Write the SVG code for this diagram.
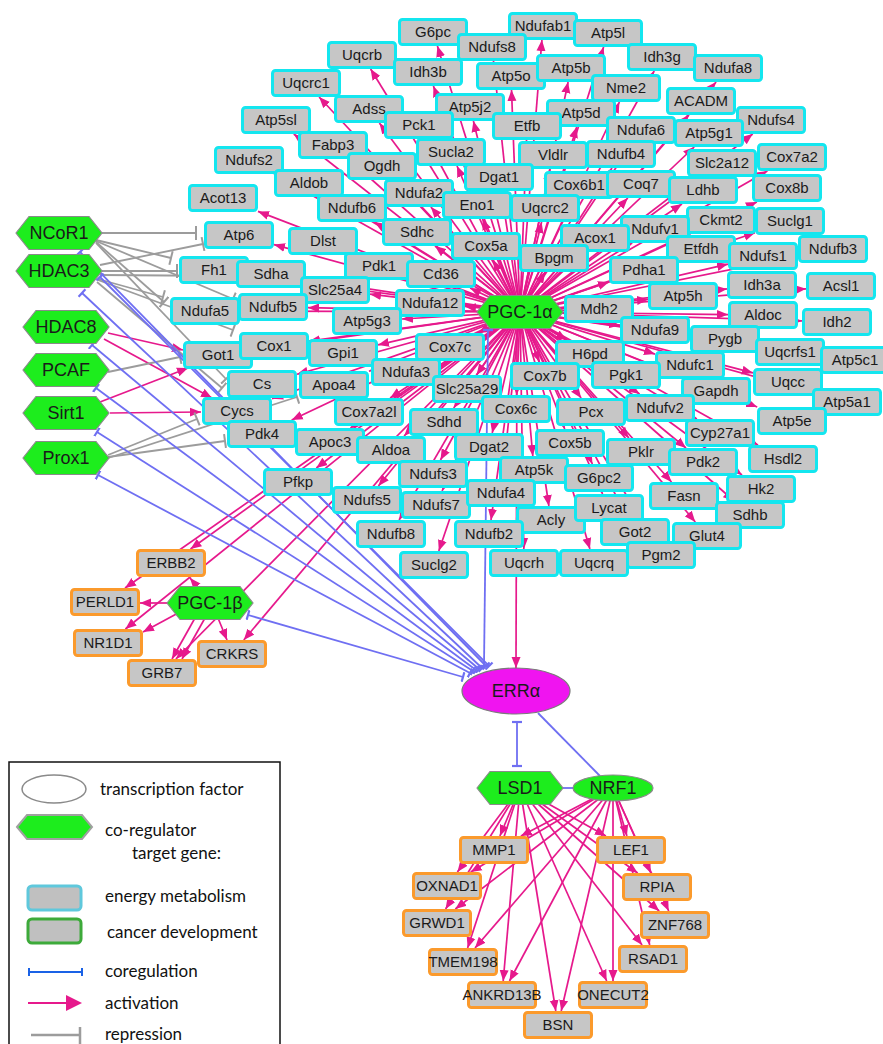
<svg xmlns="http://www.w3.org/2000/svg" xmlns:xlink="http://www.w3.org/1999/xlink" width="883" height="1044" viewBox="0 0 883 1044">
<style>
.act{fill:none;stroke:#e6198c;stroke-width:1.7;marker-end:url(#ah)}
.co{fill:none;stroke:#6f6ff2;stroke-width:1.8;marker-start:url(#tb);marker-end:url(#tb)}
.co2{fill:none;stroke:#6f6ff2;stroke-width:1.8}
.rep{fill:none;stroke:#9c9c9c;stroke-width:1.8;marker-end:url(#tg)}
.e{fill:#c6c6c6;stroke:#14e6ef;stroke-width:3}
.c{fill:#c6c6c6;stroke:#fb9a2c;stroke-width:3}
.hx{fill:#1ded1d;stroke:#8a8a8a;stroke-width:1.2}
text{font-family:"Liberation Sans",Arial,sans-serif;font-size:15px;fill:#1a1a1a;text-anchor:middle}
.big{font-size:18px}
.lg{font-family:Lato,"Open Sans",sans-serif;font-size:17px;text-anchor:start;fill:#111}
</style>
<defs>
<marker id="ah" markerUnits="userSpaceOnUse" markerWidth="12" markerHeight="10" refX="11" refY="5" orient="auto"><path d="M0,0.5L11,5L0,9.5z" fill="#e6198c"/></marker>
<marker id="tb" markerUnits="userSpaceOnUse" markerWidth="4" markerHeight="10" refX="2" refY="5" orient="auto"><path d="M2,0V10" stroke="#6f6ff2" stroke-width="2.2"/></marker>
<marker id="tg" markerUnits="userSpaceOnUse" markerWidth="4" markerHeight="14" refX="2" refY="7" orient="auto"><path d="M2,0V14" stroke="#9c9c9c" stroke-width="2"/></marker>
<rect id="box" x="-33.5" y="-12.5" width="67" height="25" rx="3"/>
<polygon id="hex" points="-43,0 -30,-16.5 30,-16.5 43,0 30,16.5 -30,16.5"/>
</defs>
<rect width="883" height="1044" fill="#fff"/>
<g id="connectors">
<g class="act">
<path d="M520 312L437.4 46"/><path d="M520 312L541.9 40"/><path d="M520 312L603.6 47"/><path d="M520 312L493.5 61"/><path d="M520 312L370.6 69"/><path d="M520 312L433.4 86"/><path d="M520 312L511.5 90"/><path d="M520 312L654.2 71"/><path d="M520 312L716.1 82"/><path d="M520 312L568.1 82"/><path d="M520 312L319.1 97"/><path d="M520 312L379.4 123"/><path d="M520 312L473.4 121"/><path d="M520 312L619.4 102"/><path d="M520 312L689 115"/><path d="M520 312L576.7 127"/><path d="M520 312L293.8 134"/><path d="M520 312L426.6 139"/><path d="M520 312L526.5 140"/><path d="M520 312L752.7 134"/><path d="M520 312L631.7 144"/><path d="M520 312L694.2 147"/><path d="M520 312L348.7 159"/><path d="M520 312L457 166"/><path d="M520 312L550 169"/><path d="M520 312L612 168"/><path d="M520 312L703 177"/><path d="M520 312L767.4 171"/><path d="M520 312L274 174"/><path d="M520 312L395.2 180"/><path d="M520 312L501.2 191"/><path d="M520 312L572.5 199"/><path d="M520 312L627.8 198"/><path d="M520 312L682 204"/><path d="M520 312L756.9 202"/><path d="M520 312L331.9 197"/><path d="M520 312L430.9 207"/><path d="M520 312L482.6 219"/><path d="M520 312L541.6 222"/><path d="M520 312L258 211.4"/><path d="M520 312L374.6 222"/><path d="M520 312L690.4 234"/><path d="M520 312L755 232.8"/><path d="M520 312L632.2 243"/><path d="M520 312L580.8 252"/><path d="M520 312L274 244.6"/><path d="M520 312L358 253.6"/><path d="M520 312L435 246"/><path d="M520 312L493.2 260"/><path d="M520 312L545.2 272"/><path d="M520 312L666 261.2"/><path d="M520 312L728 264.1"/><path d="M520 312L798 256"/><path d="M520 312L249 274.8"/><path d="M520 312L306 279.3"/><path d="M520 312L414 277.4"/><path d="M520 312L470.1 288"/><path d="M520 312L609 281.9"/><path d="M520 312L727 288.9"/><path d="M520 312L806 288.8"/><path d="M520 312L370 294.2"/><path d="M520 312L465 306.5"/><path d="M520 312L564 310.3"/><path d="M520 312L648 299.4"/><path d="M520 312L728 314.6"/><path d="M520 312L802 320.9"/><path d="M520 312L240 311.1"/><path d="M520 312L308 307.7"/><path d="M520 312L402 319"/><path d="M520 312L690 334.4"/><path d="M520 312L620 325.3"/><path d="M520 312L253 350"/><path d="M520 312L309 341.2"/><path d="M520 312L378 344.9"/><path d="M520 312L478 333"/><path d="M520 312L432.6 358"/><path d="M520 312L566.7 340"/><path d="M520 312L655 354.1"/><path d="M520 312L755 346.8"/><path d="M520 312L820 355"/><path d="M520 312L297 374.2"/><path d="M520 312L369 371.3"/><path d="M520 312L476.6 375"/><path d="M520 312L539.5 362"/><path d="M520 312L602.5 361"/><path d="M520 312L753 372.9"/><path d="M520 312L272 398.8"/><path d="M520 312L390.1 398"/><path d="M520 312L516.6 395"/><path d="M520 312L581.1 398"/><path d="M520 312L681.3 377"/><path d="M520 312L812 392.4"/><path d="M520 312L639.6 394"/><path d="M520 312L757.2 407"/><path d="M520 312L291.7 420"/><path d="M520 312L350.5 428"/><path d="M520 312L453.7 408"/><path d="M520 312L404.1 436"/><path d="M520 312L492.2 433"/><path d="M520 312L564.7 429"/><path d="M520 312L628.9 438"/><path d="M520 312L696.9 419"/><path d="M520 312L686 448"/><path d="M520 312L758 445"/><path d="M520 312L316.3 468"/><path d="M520 312L440.5 460"/><path d="M520 312L532.8 456"/><path d="M520 312L592.4 464"/><path d="M520 312L378.4 486"/><path d="M520 312L442.1 491"/><path d="M520 312L502.5 479"/><path d="M520 312L548.9 506"/><path d="M520 312L602.6 494"/><path d="M520 312L671.5 482"/><path d="M520 312L742 475"/><path d="M520 312L734.1 501"/><path d="M520 312L399.1 520"/><path d="M520 312L491 520"/><path d="M520 312L627.7 518"/><path d="M520 312L695.3 522"/><path d="M520 312L652.9 541"/><path d="M520 312L438.8 551"/><path d="M520 312L523.8 549"/><path d="M520 312L589.9 549"/>
<path d="M520 312L190.5 549"/><path d="M520 312L125 588"/><path d="M520 312L125.4 629"/><path d="M520 312L175.9 659"/><path d="M520 312L243.8 640"/>
<path d="M517 330L516 668"/>
<path d="M200 590L190 578"/><path d="M170 603L140 603"/><path d="M180 612L143 632"/><path d="M195 618L172 659"/><path d="M205 618L182 659"/><path d="M218 618L227 640"/>
<path d="M108 333L183 350"/><path d="M104 339L212 398"/><path d="M100 402L188 368"/><path d="M110 413L201 412"/>
<path d="M520 788L499.9 836"/><path d="M520 788L605.9 836"/><path d="M520 788L457.4 872"/><path d="M520 788L637.7 873"/><path d="M520 788L445.6 909"/><path d="M520 788L659.2 911"/><path d="M520 788L467.6 948"/><path d="M520 788L642.1 945"/><path d="M520 788L503.2 981"/><path d="M520 788L606.7 981"/><path d="M520 788L555.8 1011"/>
<path d="M613 788L520.9 836"/><path d="M613 788L626.9 836"/><path d="M613 788L470.7 872"/><path d="M613 788L650.8 873"/><path d="M613 788L455.3 909"/><path d="M613 788L668.7 911"/><path d="M613 788L475 948"/><path d="M613 788L649.7 945"/><path d="M613 788L509.5 981"/><path d="M613 788L613 981"/><path d="M613 788L561.2 1011"/>
</g>
<g class="rep">
<path d="M102 233L196 233"/><path d="M96 240L171 258"/><path d="M96 241L233 299"/><path d="M96 242L164 302"/><path d="M96 243L226 379"/>
<path d="M102 271L177 271"/><path d="M100 265L203 244"/><path d="M100 275L234 276"/><path d="M98 279L163 297"/><path d="M98 280L233 330"/><path d="M97 282L222 388"/>
<path d="M108 372L180 357"/><path d="M108 455L197 419"/><path d="M108 457L225 441"/><path d="M108 458L297 397"/>
</g>
<g class="co">
<path d="M80 252L486 666"/><path d="M100 277L489 666"/><path d="M82 293L482 668"/><path d="M92 345L479 669"/><path d="M96 388L476 670"/><path d="M97 432L473 671"/><path d="M98 475L470 673"/><path d="M248 615L463 677"/><path d="M488 330L484 666"/><path d="M517 722L517 766"/>
</g>
<g class="co2"><path d="M538 713L600 776"/><path d="M562 788L574 788"/></g>
</g>
<g id="n-G6pc" transform="translate(433,32)"><use href="#box" class="e"/><text y="5">G6pc</text></g>
<g id="n-Ndufab1" transform="translate(543,26)"><use href="#box" class="e"/><text y="5">Ndufab1</text></g>
<g id="n-Atp5l" transform="translate(608,33)"><use href="#box" class="e"/><text y="5">Atp5l</text></g>
<g id="n-Ndufs8" transform="translate(492,47)"><use href="#box" class="e"/><text y="5">Ndufs8</text></g>
<g id="n-Uqcrb" transform="translate(362,55)"><use href="#box" class="e"/><text y="5">Uqcrb</text></g>
<g id="n-Idh3b" transform="translate(428,72)"><use href="#box" class="e"/><text y="5">Idh3b</text></g>
<g id="n-Atp5o" transform="translate(511,76)"><use href="#box" class="e"/><text y="5">Atp5o</text></g>
<g id="n-Idh3g" transform="translate(662,57)"><use href="#box" class="e"/><text y="5">Idh3g</text></g>
<g id="n-Ndufa8" transform="translate(728,68)"><use href="#box" class="e"/><text y="5">Ndufa8</text></g>
<g id="n-Atp5b" transform="translate(571,68)"><use href="#box" class="e"/><text y="5">Atp5b</text></g>
<g id="n-Uqcrc1" transform="translate(306,83)"><use href="#box" class="e"/><text y="5">Uqcrc1</text></g>
<g id="n-Adss" transform="translate(369,109)"><use href="#box" class="e"/><text y="5">Adss</text></g>
<g id="n-Atp5j2" transform="translate(470,107)"><use href="#box" class="e"/><text y="5">Atp5j2</text></g>
<g id="n-Nme2" transform="translate(626,88)"><use href="#box" class="e"/><text y="5">Nme2</text></g>
<g id="n-ACADM" transform="translate(701,101)"><use href="#box" class="e"/><text y="5">ACADM</text></g>
<g id="n-Atp5d" transform="translate(581,113)"><use href="#box" class="e"/><text y="5">Atp5d</text></g>
<g id="n-Atp5sl" transform="translate(276,120)"><use href="#box" class="e"/><text y="5">Atp5sl</text></g>
<g id="n-Pck1" transform="translate(419,125)"><use href="#box" class="e"/><text y="5">Pck1</text></g>
<g id="n-Etfb" transform="translate(527,126)"><use href="#box" class="e"/><text y="5">Etfb</text></g>
<g id="n-Ndufs4" transform="translate(771,120)"><use href="#box" class="e"/><text y="5">Ndufs4</text></g>
<g id="n-Ndufa6" transform="translate(641,130)"><use href="#box" class="e"/><text y="5">Ndufa6</text></g>
<g id="n-Atp5g1" transform="translate(709,133)"><use href="#box" class="e"/><text y="5">Atp5g1</text></g>
<g id="n-Fabp3" transform="translate(333,145)"><use href="#box" class="e"/><text y="5">Fabp3</text></g>
<g id="n-Sucla2" transform="translate(451,152)"><use href="#box" class="e"/><text y="5">Sucla2</text></g>
<g id="n-Vldlr" transform="translate(553,155)"><use href="#box" class="e"/><text y="5">Vldlr</text></g>
<g id="n-Ndufb4" transform="translate(621,154)"><use href="#box" class="e"/><text y="5">Ndufb4</text></g>
<g id="n-Slc2a12" transform="translate(722,163)"><use href="#box" class="e"/><text y="5">Slc2a12</text></g>
<g id="n-Cox7a2" transform="translate(792,157)"><use href="#box" class="e"/><text y="5">Cox7a2</text></g>
<g id="n-Ndufs2" transform="translate(249,160)"><use href="#box" class="e"/><text y="5">Ndufs2</text></g>
<g id="n-Ogdh" transform="translate(382,166)"><use href="#box" class="e"/><text y="5">Ogdh</text></g>
<g id="n-Dgat1" transform="translate(499,177)"><use href="#box" class="e"/><text y="5">Dgat1</text></g>
<g id="n-Cox6b1" transform="translate(579,185)"><use href="#box" class="e"/><text y="5">Cox6b1</text></g>
<g id="n-Coq7" transform="translate(641,184)"><use href="#box" class="e"/><text y="5">Coq7</text></g>
<g id="n-Ldhb" transform="translate(703,190)"><use href="#box" class="e"/><text y="5">Ldhb</text></g>
<g id="n-Cox8b" transform="translate(787,188)"><use href="#box" class="e"/><text y="5">Cox8b</text></g>
<g id="n-Aldob" transform="translate(309,183)"><use href="#box" class="e"/><text y="5">Aldob</text></g>
<g id="n-Ndufa2" transform="translate(419,193)"><use href="#box" class="e"/><text y="5">Ndufa2</text></g>
<g id="n-Eno1" transform="translate(477,205)"><use href="#box" class="e"/><text y="5">Eno1</text></g>
<g id="n-Uqcrc2" transform="translate(545,208)"><use href="#box" class="e"/><text y="5">Uqcrc2</text></g>
<g id="n-Acot13" transform="translate(223,198)"><use href="#box" class="e"/><text y="5">Acot13</text></g>
<g id="n-Ndufb6" transform="translate(352,208)"><use href="#box" class="e"/><text y="5">Ndufb6</text></g>
<g id="n-Ckmt2" transform="translate(721,220)"><use href="#box" class="e"/><text y="5">Ckmt2</text></g>
<g id="n-Suclg1" transform="translate(790,221)"><use href="#box" class="e"/><text y="5">Suclg1</text></g>
<g id="n-Ndufv1" transform="translate(655,229)"><use href="#box" class="e"/><text y="5">Ndufv1</text></g>
<g id="n-Acox1" transform="translate(595,238)"><use href="#box" class="e"/><text y="5">Acox1</text></g>
<g id="n-Atp6" transform="translate(239,235)"><use href="#box" class="e"/><text y="5">Atp6</text></g>
<g id="n-Dlst" transform="translate(323,241)"><use href="#box" class="e"/><text y="5">Dlst</text></g>
<g id="n-Sdhc" transform="translate(417,232)"><use href="#box" class="e"/><text y="5">Sdhc</text></g>
<g id="n-Cox5a" transform="translate(486,246)"><use href="#box" class="e"/><text y="5">Cox5a</text></g>
<g id="n-Bpgm" transform="translate(554,258)"><use href="#box" class="e"/><text y="5">Bpgm</text></g>
<g id="n-Etfdh" transform="translate(701,249)"><use href="#box" class="e"/><text y="5">Etfdh</text></g>
<g id="n-Ndufs1" transform="translate(763,256)"><use href="#box" class="e"/><text y="5">Ndufs1</text></g>
<g id="n-Ndufb3" transform="translate(833,249)"><use href="#box" class="e"/><text y="5">Ndufb3</text></g>
<g id="n-Fh1" transform="translate(214,270)"><use href="#box" class="e"/><text y="5">Fh1</text></g>
<g id="n-Sdha" transform="translate(271,274)"><use href="#box" class="e"/><text y="5">Sdha</text></g>
<g id="n-Pdk1" transform="translate(379,266)"><use href="#box" class="e"/><text y="5">Pdk1</text></g>
<g id="n-Cd36" transform="translate(441,274)"><use href="#box" class="e"/><text y="5">Cd36</text></g>
<g id="n-Pdha1" transform="translate(644,270)"><use href="#box" class="e"/><text y="5">Pdha1</text></g>
<g id="n-Idh3a" transform="translate(762,285)"><use href="#box" class="e"/><text y="5">Idh3a</text></g>
<g id="n-Acsl1" transform="translate(841,286)"><use href="#box" class="e"/><text y="5">Acsl1</text></g>
<g id="n-Slc25a4" transform="translate(335,290)"><use href="#box" class="e"/><text y="5">Slc25a4</text></g>
<g id="n-Ndufa12" transform="translate(430,303)"><use href="#box" class="e"/><text y="5">Ndufa12</text></g>
<g id="n-Mdh2" transform="translate(599,309)"><use href="#box" class="e"/><text y="5">Mdh2</text></g>
<g id="n-Atp5h" transform="translate(683,296)"><use href="#box" class="e"/><text y="5">Atp5h</text></g>
<g id="n-Aldoc" transform="translate(763,315)"><use href="#box" class="e"/><text y="5">Aldoc</text></g>
<g id="n-Idh2" transform="translate(837,322)"><use href="#box" class="e"/><text y="5">Idh2</text></g>
<g id="n-Ndufa5" transform="translate(205,311)"><use href="#box" class="e"/><text y="5">Ndufa5</text></g>
<g id="n-Ndufb5" transform="translate(273,307)"><use href="#box" class="e"/><text y="5">Ndufb5</text></g>
<g id="n-Atp5g3" transform="translate(367,321)"><use href="#box" class="e"/><text y="5">Atp5g3</text></g>
<g id="n-Pygb" transform="translate(725,339)"><use href="#box" class="e"/><text y="5">Pygb</text></g>
<g id="n-Ndufa9" transform="translate(655,330)"><use href="#box" class="e"/><text y="5">Ndufa9</text></g>
<g id="n-Got1" transform="translate(218,355)"><use href="#box" class="e"/><text y="5">Got1</text></g>
<g id="n-Cox1" transform="translate(274,346)"><use href="#box" class="e"/><text y="5">Cox1</text></g>
<g id="n-Gpi1" transform="translate(343,353)"><use href="#box" class="e"/><text y="5">Gpi1</text></g>
<g id="n-Cox7c" transform="translate(450,347)"><use href="#box" class="e"/><text y="5">Cox7c</text></g>
<g id="n-Ndufa3" transform="translate(406,372)"><use href="#box" class="e"/><text y="5">Ndufa3</text></g>
<g id="n-H6pd" transform="translate(590,354)"><use href="#box" class="e"/><text y="5">H6pd</text></g>
<g id="n-Ndufc1" transform="translate(690,365)"><use href="#box" class="e"/><text y="5">Ndufc1</text></g>
<g id="n-Uqcrfs1" transform="translate(790,352)"><use href="#box" class="e"/><text y="5">Uqcrfs1</text></g>
<g id="n-Atp5c1" transform="translate(855,360)"><use href="#box" class="e"/><text y="5">Atp5c1</text></g>
<g id="n-Cs" transform="translate(262,384)"><use href="#box" class="e"/><text y="5">Cs</text></g>
<g id="n-Apoa4" transform="translate(334,385)"><use href="#box" class="e"/><text y="5">Apoa4</text></g>
<g id="n-Slc25a29" transform="translate(467,389)"><use href="#box" class="e"/><text y="5">Slc25a29</text></g>
<g id="n-Cox7b" transform="translate(545,376)"><use href="#box" class="e"/><text y="5">Cox7b</text></g>
<g id="n-Pgk1" transform="translate(626,375)"><use href="#box" class="e"/><text y="5">Pgk1</text></g>
<g id="n-Uqcc" transform="translate(788,382)"><use href="#box" class="e"/><text y="5">Uqcc</text></g>
<g id="n-Cycs" transform="translate(237,411)"><use href="#box" class="e"/><text y="5">Cycs</text></g>
<g id="n-Cox7a2l" transform="translate(369,412)"><use href="#box" class="e"/><text y="5">Cox7a2l</text></g>
<g id="n-Cox6c" transform="translate(516,409)"><use href="#box" class="e"/><text y="5">Cox6c</text></g>
<g id="n-Pcx" transform="translate(591,412)"><use href="#box" class="e"/><text y="5">Pcx</text></g>
<g id="n-Gapdh" transform="translate(716,391)"><use href="#box" class="e"/><text y="5">Gapdh</text></g>
<g id="n-Atp5a1" transform="translate(847,402)"><use href="#box" class="e"/><text y="5">Atp5a1</text></g>
<g id="n-Ndufv2" transform="translate(660,408)"><use href="#box" class="e"/><text y="5">Ndufv2</text></g>
<g id="n-Atp5e" transform="translate(792,421)"><use href="#box" class="e"/><text y="5">Atp5e</text></g>
<g id="n-Pdk4" transform="translate(262,434)"><use href="#box" class="e"/><text y="5">Pdk4</text></g>
<g id="n-Apoc3" transform="translate(330,442)"><use href="#box" class="e"/><text y="5">Apoc3</text></g>
<g id="n-Sdhd" transform="translate(444,422)"><use href="#box" class="e"/><text y="5">Sdhd</text></g>
<g id="n-Aldoa" transform="translate(391,450)"><use href="#box" class="e"/><text y="5">Aldoa</text></g>
<g id="n-Dgat2" transform="translate(489,447)"><use href="#box" class="e"/><text y="5">Dgat2</text></g>
<g id="n-Cox5b" transform="translate(570,443)"><use href="#box" class="e"/><text y="5">Cox5b</text></g>
<g id="n-Pklr" transform="translate(641,452)"><use href="#box" class="e"/><text y="5">Pklr</text></g>
<g id="n-Cyp27a1" transform="translate(720,433)"><use href="#box" class="e"/><text y="5">Cyp27a1</text></g>
<g id="n-Pdk2" transform="translate(703,462)"><use href="#box" class="e"/><text y="5">Pdk2</text></g>
<g id="n-Hsdl2" transform="translate(783,459)"><use href="#box" class="e"/><text y="5">Hsdl2</text></g>
<g id="n-Pfkp" transform="translate(298,482)"><use href="#box" class="e"/><text y="5">Pfkp</text></g>
<g id="n-Ndufs3" transform="translate(433,474)"><use href="#box" class="e"/><text y="5">Ndufs3</text></g>
<g id="n-Atp5k" transform="translate(534,470)"><use href="#box" class="e"/><text y="5">Atp5k</text></g>
<g id="n-G6pc2" transform="translate(599,478)"><use href="#box" class="e"/><text y="5">G6pc2</text></g>
<g id="n-Ndufs5" transform="translate(367,500)"><use href="#box" class="e"/><text y="5">Ndufs5</text></g>
<g id="n-Ndufs7" transform="translate(436,505)"><use href="#box" class="e"/><text y="5">Ndufs7</text></g>
<g id="n-Ndufa4" transform="translate(501,493)"><use href="#box" class="e"/><text y="5">Ndufa4</text></g>
<g id="n-Acly" transform="translate(551,520)"><use href="#box" class="e"/><text y="5">Acly</text></g>
<g id="n-Lycat" transform="translate(609,508)"><use href="#box" class="e"/><text y="5">Lycat</text></g>
<g id="n-Fasn" transform="translate(684,496)"><use href="#box" class="e"/><text y="5">Fasn</text></g>
<g id="n-Hk2" transform="translate(761,489)"><use href="#box" class="e"/><text y="5">Hk2</text></g>
<g id="n-Sdhb" transform="translate(750,515)"><use href="#box" class="e"/><text y="5">Sdhb</text></g>
<g id="n-Ndufb8" transform="translate(391,534)"><use href="#box" class="e"/><text y="5">Ndufb8</text></g>
<g id="n-Ndufb2" transform="translate(489,534)"><use href="#box" class="e"/><text y="5">Ndufb2</text></g>
<g id="n-Got2" transform="translate(635,532)"><use href="#box" class="e"/><text y="5">Got2</text></g>
<g id="n-Glut4" transform="translate(707,536)"><use href="#box" class="e"/><text y="5">Glut4</text></g>
<g id="n-Pgm2" transform="translate(661,555)"><use href="#box" class="e"/><text y="5">Pgm2</text></g>
<g id="n-Suclg2" transform="translate(434,565)"><use href="#box" class="e"/><text y="5">Suclg2</text></g>
<g id="n-Uqcrh" transform="translate(524,563)"><use href="#box" class="e"/><text y="5">Uqcrh</text></g>
<g id="n-Uqcrq" transform="translate(594,563)"><use href="#box" class="e"/><text y="5">Uqcrq</text></g>
<g id="n-ERBB2" transform="translate(171,563)"><use href="#box" class="c"/><text y="5">ERBB2</text></g>
<g id="n-PERLD1" transform="translate(105,602)"><use href="#box" class="c"/><text y="5">PERLD1</text></g>
<g id="n-NR1D1" transform="translate(108,643)"><use href="#box" class="c"/><text y="5">NR1D1</text></g>
<g id="n-CRKRS" transform="translate(232,654)"><use href="#box" class="c"/><text y="5">CRKRS</text></g>
<g id="n-GRB7" transform="translate(162,673)"><use href="#box" class="c"/><text y="5">GRB7</text></g>
<g id="n-MMP1" transform="translate(494,850)"><use href="#box" class="c"/><text y="5">MMP1</text></g>
<g id="n-LEF1" transform="translate(631,850)"><use href="#box" class="c"/><text y="5">LEF1</text></g>
<g id="n-OXNAD1" transform="translate(447,886)"><use href="#box" class="c"/><text y="5">OXNAD1</text></g>
<g id="n-RPIA" transform="translate(657,887)"><use href="#box" class="c"/><text y="5">RPIA</text></g>
<g id="n-GRWD1" transform="translate(437,923)"><use href="#box" class="c"/><text y="5">GRWD1</text></g>
<g id="n-ZNF768" transform="translate(675,925)"><use href="#box" class="c"/><text y="5">ZNF768</text></g>
<g id="n-TMEM198" transform="translate(463,962)"><use href="#box" class="c"/><text y="5">TMEM198</text></g>
<g id="n-RSAD1" transform="translate(653,959)"><use href="#box" class="c"/><text y="5">RSAD1</text></g>
<g id="n-ANKRD13B" transform="translate(502,995)"><use href="#box" class="c"/><text y="5">ANKRD13B</text></g>
<g id="n-ONECUT2" transform="translate(613,995)"><use href="#box" class="c"/><text y="5">ONECUT2</text></g>
<g id="n-BSN" transform="translate(558,1025)"><use href="#box" class="c"/><text y="5">BSN</text></g>
<g id="n-NCoR1" transform="translate(59,233)"><use href="#hex" class="hx"/><text class="big" y="6">NCoR1</text></g>
<g id="n-HDAC3" transform="translate(59,271)"><use href="#hex" class="hx"/><text class="big" y="6">HDAC3</text></g>
<g id="n-HDAC8" transform="translate(66,327)"><use href="#hex" class="hx"/><text class="big" y="6">HDAC8</text></g>
<g id="n-PCAF" transform="translate(66,370)"><use href="#hex" class="hx"/><text class="big" y="6">PCAF</text></g>
<g id="n-Sirt1" transform="translate(66,413)"><use href="#hex" class="hx"/><text class="big" y="6">Sirt1</text></g>
<g id="n-Prox1" transform="translate(66,458)"><use href="#hex" class="hx"/><text class="big" y="6">Prox1</text></g>
<g id="n-PGC1a" transform="translate(520,312)"><use href="#hex" class="hx"/><text class="big" y="6">PGC-1α</text></g>
<g id="n-PGC1b" transform="translate(210,603)"><use href="#hex" class="hx"/><text class="big" y="6">PGC-1β</text></g>
<g id="n-LSD1" transform="translate(520,788)"><use href="#hex" class="hx"/><text class="big" y="6">LSD1</text></g>
<g id="n-NRF1"><ellipse cx="613" cy="788" rx="40" ry="13" fill="#1ded1d" stroke="#8a8a8a" stroke-width="1.2"/><text class="big" x="613" y="794">NRF1</text></g>
<g id="n-ERRa"><ellipse cx="516" cy="691" rx="54" ry="23" fill="#f014f0" stroke="#7a7a7a" stroke-width="1.2"/><text class="big" x="516" y="697">ERRα</text></g>
<g id="legend">
<rect x="9" y="762" width="271" height="292" fill="#fff" stroke="#111" stroke-width="1.5"/>
<ellipse cx="54" cy="789" rx="32" ry="14" fill="#fff" stroke="#8a8a8a" stroke-width="1.5"/>
<polygon points="17,827 27,815 82,815 92,827 82,839 27,839" fill="#1ded1d" stroke="#a0a0a0" stroke-width="2"/>
<rect x="28" y="886" width="53" height="24" rx="4" fill="#c0c0c0" stroke="#5fc8dc" stroke-width="3"/>
<rect x="28" y="919" width="53" height="24" rx="4" fill="#c0c0c0" stroke="#3daa3a" stroke-width="3"/>
<path d="M29 972H82M29 968V976M82 968V976" stroke="#1a62e6" stroke-width="2" fill="none"/>
<path d="M28 1003H68" stroke="#e6198c" stroke-width="2"/><path d="M66 995L82 1003L66 1011z" fill="#e6198c"/>
<path d="M31 1035H80M80 1027V1044" stroke="#9c9c9c" stroke-width="2.5" fill="none"/>
<text class="lg" x="100" y="795">transcription factor</text>
<text class="lg" x="105" y="836">co-regulator</text>
<text class="lg" x="132" y="859">target gene:</text>
<text class="lg" x="105" y="902">energy metabolism</text>
<text class="lg" x="107" y="938">cancer development</text>
<text class="lg" x="105" y="977">coregulation</text>
<text class="lg" x="105" y="1009">activation</text>
<text class="lg" x="105" y="1040">repression</text>
</g>
</svg>
